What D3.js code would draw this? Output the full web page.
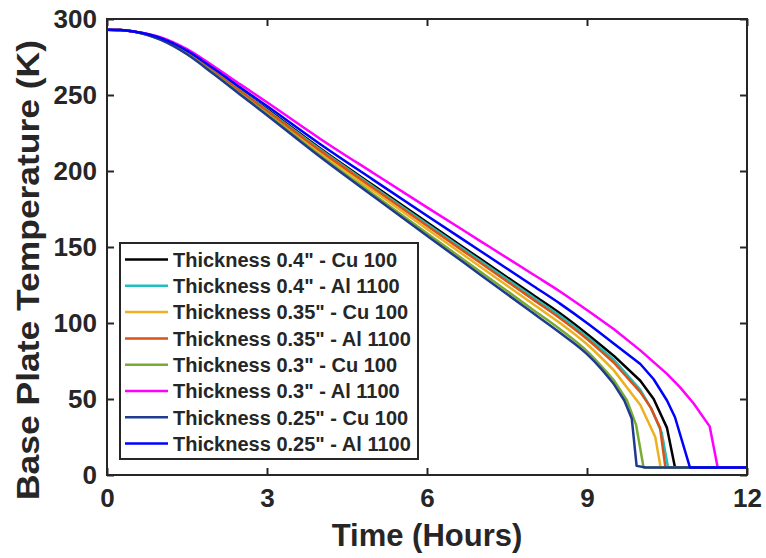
<!DOCTYPE html>
<html>
<head>
<meta charset="utf-8">
<script src="https://cdn.jsdelivr.net/npm/d3@7"></script>
<style>
  body { margin: 0; background: #fff; }
  text { font-family: "Liberation Sans", Arial, sans-serif; font-weight: bold; fill: #262626; }
</style>
</head>
<body>
<script>
var width = 766, height = 558;

//Shared time grid for the linear part of every curve (hours)
var hoursBody = [0, 0.25, 0.5, 1, 1.5, 2, 2.5, 3, 4, 5, 6, 7, 8, 8.5];

//Base plate temperature (K) on hoursBody, then a tail of its own for each run
var cu040Body = [293, 292.8, 291.8, 287.2, 278.4, 266.2, 253.4, 240.7, 214.8, 190.4, 166.2, 142.2, 118.2, 106.2];
var cu040TailHours = [9, 9.5, 10, 10.25, 10.5, 10.65, 12];
var cu040TailTemp = [92.8, 78.5, 62, 50, 31, 5, 5];

var al040Body = [293, 292.8, 291.8, 287.1, 278.2, 265.9, 253, 240.2, 214.1, 189.5, 165.1, 140.9, 116.7, 104.6];
var al040TailHours = [9, 9.5, 10, 10.2, 10.4, 10.52, 12];
var al040TailTemp = [91, 76, 56, 44, 28, 5, 5];

var cu035Body = [293, 292.8, 291.8, 286.8, 277.6, 265, 251.8, 238.7, 212, 186.8, 161.8, 137, 112.2, 99.8];
var cu035TailHours = [9, 9.5, 10, 10.28, 10.38, 12];
var cu035TailTemp = [86, 69, 46, 25, 5, 5];

var al035Body = [293, 292.8, 291.8, 287, 278, 265.6, 252.6, 239.7, 213.4, 188.6, 164, 139.6, 115.2, 103];
var al035TailHours = [9, 9.5, 10, 10.2, 10.37, 10.47, 12];
var al035TailTemp = [89.5, 74, 54.5, 44, 31, 5, 5];

var cu030Body = [293, 292.8, 291.8, 286.55, 277.1, 264.25, 250.8, 237.45, 210.25, 184.55, 159.05, 133.75, 108.45, 95.8];
var cu030TailHours = [9, 9.5, 9.75, 9.92, 10.06, 12];
var cu030TailTemp = [81.5, 62.5, 49, 33, 5, 5];

var al030Body = [293, 292.8, 291.8, 288.1, 280.2, 268.9, 257, 245.2, 221.1, 198.5, 176.1, 153.9, 131.7, 120.6];
var al030TailHours = [9, 9.5, 10, 10.5, 10.75, 11, 11.3, 11.45, 12];
var al030TailTemp = [108.5, 96, 82, 66.5, 57.5, 47, 32, 5, 5];

var cu025Body = [293, 292.8, 291.8, 286.4, 276.8, 263.8, 250.2, 236.7, 209.2, 183.2, 157.4, 131.8, 106.2, 93.4];
var cu025TailHours = [9, 9.25, 9.5, 9.7, 9.84, 9.93, 10.1, 12];
var cu025TailTemp = [79.5, 70.5, 60, 49, 37, 6, 5, 5];

var al025Body = [293, 292.8, 291.8, 287.6, 279.2, 267.4, 255, 242.7, 217.6, 194, 170.6, 147.4, 124.2, 112.6];
var al025TailHours = [9, 9.5, 10, 10.25, 10.5, 10.65, 10.93, 12];
var al025TailTemp = [100, 86.5, 73, 63, 49, 38, 5, 5];

var seriesNames = [
  'Thickness 0.4" - Cu 100', 'Thickness 0.4" - Al 1100',
  'Thickness 0.35" - Cu 100', 'Thickness 0.35" - Al 1100',
  'Thickness 0.3" - Cu 100', 'Thickness 0.3" - Al 1100',
  'Thickness 0.25" - Cu 100', 'Thickness 0.25" - Al 1100'
];
var seriesColors = ["#000000", "#1fbfbf", "#edb120", "#d95319", "#77ac30", "#ff00ff", "#1f3a8f", "#0000ff"];

var xTicks = [0, 3, 6, 9, 12];
var yTicks = [0, 50, 100, 150, 200, 250, 300];

//Stitch body + tail into point lists
function build(body, tailH, tailT) {
  var pts = hoursBody.map(function(h, i) { return [h, body[i]]; });
  return pts.concat(tailH.map(function(h, i) { return [h, tailT[i]]; }));
}
var series = [
  build(cu040Body, cu040TailHours, cu040TailTemp),
  build(al040Body, al040TailHours, al040TailTemp),
  build(cu035Body, cu035TailHours, cu035TailTemp),
  build(al035Body, al035TailHours, al035TailTemp),
  build(cu030Body, cu030TailHours, cu030TailTemp),
  build(al030Body, al030TailHours, al030TailTemp),
  build(cu025Body, cu025TailHours, cu025TailTemp),
  build(al025Body, al025TailHours, al025TailTemp)
];

var box = {left: 107, right: 747, top: 19, bottom: 475};

var x = d3.scaleLinear().domain([0, 12]).range([box.left, box.right]);
var y = d3.scaleLinear().domain([0, 300]).range([box.bottom, box.top]);

var svg = d3.select("body").append("svg").attr("width", width).attr("height", height);

var smooth = d3.line()
  .x(function(d) { return x(d[0]); })
  .y(function(d) { return y(d[1]); })
  .curve(d3.curveMonotoneX);
var straight = d3.line()
  .x(function(d) { return x(d[0]); })
  .y(function(d) { return y(d[1]); });

//Smooth cool-down, then straight segments for the sharp drop at the end (like the original plot)
function pathFor(pts) {
  var k = pts.findIndex(function(d) { return d[0] >= 9.5; });
  return smooth(pts.slice(0, k + 1)) + straight(pts.slice(k)).replace(/^M/, "L");
}

svg.append("g").selectAll("path")
  .data(series)
  .enter().append("path")
  .attr("d", pathFor)
  .attr("fill", "none")
  .attr("stroke", function(d, i) { return seriesColors[i]; })
  .attr("stroke-width", 2.5)
  .attr("stroke-linejoin", "round");

//Axes - ticks point inward, box on
function styleAxis(g) {
  g.select(".domain").remove();
  g.selectAll(".tick line").attr("stroke", "#262626").attr("stroke-width", 2);
  g.selectAll(".tick text").style("font-size", "26px").attr("fill", "#262626");
}
svg.append("g").attr("transform", "translate(0," + box.bottom + ")")
  .call(d3.axisBottom(x).tickValues(xTicks).tickSize(-7).tickPadding(14).tickFormat(d3.format("d")))
  .call(styleAxis);
svg.append("g").attr("transform", "translate(0," + box.top + ")")
  .call(d3.axisTop(x).tickValues(xTicks).tickSize(-7).tickFormat(""))
  .call(styleAxis);
svg.append("g").attr("transform", "translate(" + box.left + ",0)")
  .call(d3.axisLeft(y).tickValues(yTicks).tickSize(-7).tickPadding(10).tickFormat(d3.format("d")))
  .call(styleAxis);
svg.append("g").attr("transform", "translate(" + box.right + ",0)")
  .call(d3.axisRight(y).tickValues(yTicks).tickSize(-7).tickFormat(""))
  .call(styleAxis);

svg.selectAll("text").attr("font-family", null);

svg.append("rect")
  .attr("x", box.left).attr("y", box.top)
  .attr("width", box.right - box.left).attr("height", box.bottom - box.top)
  .attr("fill", "none").attr("stroke", "#262626").attr("stroke-width", 2);

//Axis titles
svg.append("text")
  .attr("x", (box.left + box.right) / 2).attr("y", 546)
  .attr("text-anchor", "middle")
  .style("font-size", "31px")
  .text("Time (Hours)");
svg.append("text")
  .attr("transform", "translate(39,270) rotate(-90)")
  .attr("text-anchor", "middle")
  .attr("textLength", 460)
  .attr("lengthAdjust", "spacingAndGlyphs")
  .style("font-size", "31px")
  .text("Base Plate Temperature (K)");

//Legend
var legend = svg.append("g");
legend.append("rect")
  .attr("x", 120).attr("y", 243).attr("width", 298).attr("height", 216)
  .attr("fill", "#fff").attr("stroke", "#262626").attr("stroke-width", 2);
var rows = legend.selectAll("g.row").data(seriesNames).enter().append("g")
  .attr("class", "row")
  .attr("transform", function(d, i) { return "translate(0," + (259.5 + i * 26.3) + ")"; });
rows.append("line")
  .attr("x1", 125).attr("x2", 168)
  .attr("stroke", function(d, i) { return seriesColors[i]; })
  .attr("stroke-width", 2.5);
rows.append("text")
  .attr("x", 173).attr("dy", "0.36em")
  .style("font-size", "20px")
  .text(function(d) { return d; });
</script>
</body>
</html>
